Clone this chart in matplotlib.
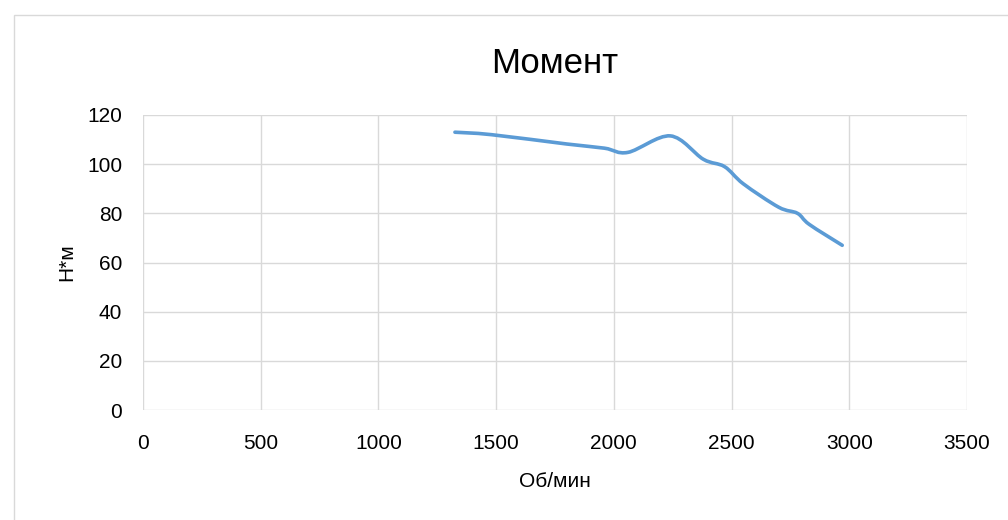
import matplotlib.pyplot as plt
from matplotlib.path import Path
from matplotlib.patches import PathPatch, Rectangle

# data
rpm = [1325, 1480, 1800, 1960, 2060, 2240, 2380, 2470, 2550, 2700, 2780, 2830, 2970]
torque = [113, 112, 108.2, 106.5, 104.8, 111.5, 102, 99, 92, 82.5, 80, 75.5, 67]

xticks = [0, 500, 1000, 1500, 2000, 2500, 3000, 3500]
yticks = [0, 20, 40, 60, 80, 100, 120]

plt.rcParams['font.family'] = ['Liberation Sans', 'DejaVu Sans']

fig = plt.figure(figsize=(10.08, 5.2), dpi=100)
ax = fig.add_axes([143/1008, 1-410/520, (967-143)/1008, (410-115)/520])

# outer chart border like Excel
fig.patches.append(Rectangle((14/1008, -0.1), 1.2, 1.1-15/520, transform=fig.transFigure,
                             fill=False, edgecolor='#d9d9d9', linewidth=1))

# smoothed line: cubic bezier segments (Catmull-Rom style control points)
pts = list(zip(rpm, torque))
verts = [pts[0]]
codes = [Path.MOVETO]
t = 1/6
for i in range(len(pts)-1):
    p0 = pts[i-1] if i > 0 else pts[i]
    p1 = pts[i]
    p2 = pts[i+1]
    p3 = pts[i+2] if i+2 < len(pts) else pts[i+1]
    c1 = (p1[0] + (p2[0]-p0[0])*t, p1[1] + (p2[1]-p0[1])*t)
    c2 = (p2[0] - (p3[0]-p1[0])*t, p2[1] - (p3[1]-p1[1])*t)
    verts += [c1, c2, p2]
    codes += [Path.CURVE4]*3
ax.add_patch(PathPatch(Path(verts, codes), fill=False, edgecolor='#5b9bd5',
                       linewidth=2.6, capstyle='round', joinstyle='round', zorder=3))

ax.set_xlim(0, 3500)
ax.set_ylim(0, 120)
ax.set_xticks(xticks)
ax.set_yticks(yticks)
ax.grid(True, color='#d9d9d9', linewidth=1)
ax.set_axisbelow(True)
for s in ax.spines.values():
    s.set_visible(False)
ax.tick_params(length=0, labelsize=15, colors='#404040', labelcolor='black')
ax.tick_params(axis='x', pad=17)
ax.tick_params(axis='y', pad=15)

ax.set_title('Момент', fontsize=25, pad=30)
ax.set_xlabel('Об/мин', fontsize=15, labelpad=14)
ax.set_ylabel('Н*м', fontsize=15, labelpad=8)

fig.savefig('out.png', dpi=100)
